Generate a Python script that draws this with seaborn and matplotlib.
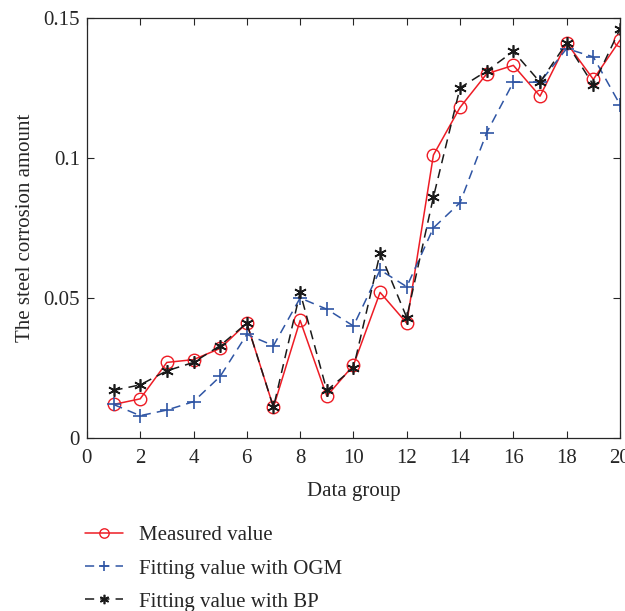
import matplotlib
matplotlib.use("Agg")
import matplotlib.pyplot as plt
import seaborn as sns
import pandas as pd

# -----------------------------
# Data
# -----------------------------
groups = list(range(1, 21))
measured = [0.012, 0.014, 0.027, 0.028, 0.032, 0.041, 0.011, 0.042, 0.015, 0.026,
            0.052, 0.041, 0.101, 0.118, 0.130, 0.133, 0.122, 0.141, 0.128, 0.142]
ogm = [0.012, 0.008, 0.010, 0.013, 0.022, 0.037, 0.033, 0.050, 0.046, 0.040,
       0.060, 0.054, 0.075, 0.084, 0.109, 0.127, 0.127, 0.139, 0.136, 0.119]
bp = [0.017, 0.019, 0.024, 0.027, 0.033, 0.041, 0.011, 0.052, 0.017, 0.025,
      0.066, 0.043, 0.086, 0.125, 0.131, 0.138, 0.127, 0.141, 0.126, 0.146]
series_names = ["Measured value", "Fitting value with OGM", "Fitting value with BP"]
x_ticks = list(range(0, 21, 2))
y_ticks = [0, 0.05, 0.1, 0.15]
y_tick_labels = ["0", "0.05", "0.1", "0.15"]

df = pd.DataFrame({"group": groups, "measured": measured, "ogm": ogm, "bp": bp})

# -----------------------------
# Style
# -----------------------------
sns.set_style("ticks")
plt.rcParams["font.family"] = ["Liberation Serif", "DejaVu Serif"]
plt.rcParams["xtick.direction"] = "in"
plt.rcParams["ytick.direction"] = "in"

fig = plt.figure(figsize=(6.25, 6.11), dpi=100)
ax = fig.add_axes([0.139, 0.283, 0.853, 0.688])

red, blue, black = "#ee1c25", "#2f55a4", "#1a1a1a"

sns.lineplot(data=df, x="group", y="measured", ax=ax, color=red,
             linestyle="-", linewidth=1.1, marker="o", markersize=9,
             markerfacecolor="none", markeredgecolor=red,
             markeredgewidth=1.0, label=series_names[0])
sns.lineplot(data=df, x="group", y="ogm", ax=ax, color=blue,
             linestyle=(0, (6, 4)), linewidth=1.1, marker="+", markersize=10,
             markeredgecolor=blue, markeredgewidth=1.2, label=series_names[1])
sns.lineplot(data=df, x="group", y="bp", ax=ax, color=black,
             linestyle=(0, (6, 4)), linewidth=1.1, marker=(6, 2, 0), markersize=9,
             markeredgecolor=black, markeredgewidth=1.2, label=series_names[2])

ax.set_xlim(0, 20)
ax.set_ylim(0, 0.15)
ax.set_xticks(x_ticks)
ax.set_yticks(y_ticks)
ax.set_yticklabels(y_tick_labels)
ax.tick_params(labelsize=15, top=True, right=True, length=5, width=0.8)
ax.tick_params(axis="x", pad=8)
ax.tick_params(axis="y", pad=5)
ax.set_xlabel("Data group", fontsize=15, labelpad=10)
ax.set_ylabel("The steel corrosion amount", fontsize=15, labelpad=6)
for s in ax.spines.values():
    s.set_linewidth(0.9)

handles, labels = ax.get_legend_handles_labels()
ax.get_legend().remove()
fig.legend(handles, labels, loc="upper left", bbox_to_anchor=(0.106, 0.170),
           frameon=False, fontsize=15, handlelength=1.8, handletextpad=0.8,
           labelspacing=0.65, markerscale=0.75)

fig.savefig("out.png", dpi=100)
